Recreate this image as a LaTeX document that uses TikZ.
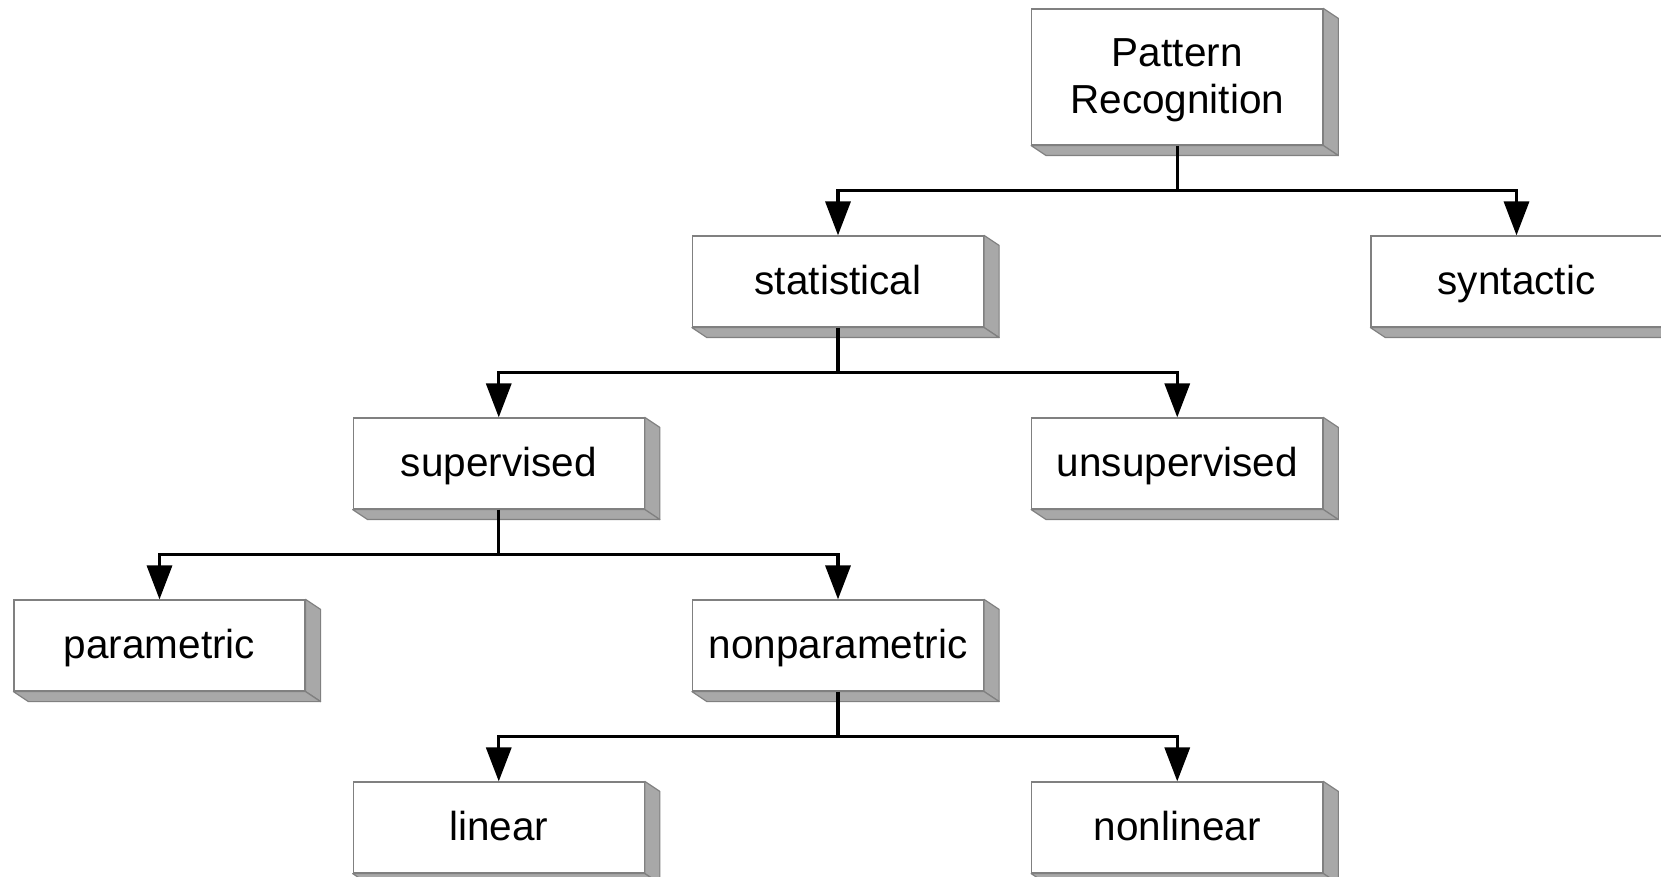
\documentclass[tikz,border=0pt]{standalone}
\usepackage{fontspec}
\setmainfont{Liberation Sans}
\usetikzlibrary{arrows.meta,calc}
\definecolor{boxedge}{HTML}{808080}
\definecolor{boxside}{HTML}{A8A8A8}
\begin{document}
\begin{tikzpicture}[x=1pt,y=1pt,
  box/.style={draw=boxedge, line width=1.2pt, fill=white, minimum width=291pt,
    minimum height=91pt, inner sep=0pt, font=\fontsize{40.5}{47}\selectfont, align=center},
  one/.style={text height=33pt, text depth=7pt},
  face/.style={fill=boxside, draw=boxedge, line width=1.2pt, line join=round},
  link/.style={line width=3.4pt},
  conn/.style={line width=3.4pt, -{Triangle[length=34pt,width=25pt]}}]
\useasboundingbox (0,0) rectangle (1661,876);
\clip (0,0) rectangle (1661,876);
% nodes
\node[box, minimum height=136pt] (PR) at (1177.25,799) {\rule{0pt}{35pt}Pattern\\Recognition};
\node[box, one] (stat)   at (838,594.5)    {statistical};
\node[box, one] (syn)    at (1516.5,594.5) {syntactic};
\node[box, one] (sup)    at (498.75,412.5) {supervised};
\node[box, one] (unsup)  at (1177.25,412.5){unsupervised};
\node[box, one] (par)    at (159.5,230.5)  {parametric};
\node[box, one] (nonpar) at (838,230.5)    {nonparametric};
\node[box, one] (lin)    at (498.75,48.5)  {linear};
\node[box, one] (nonlin) at (1177.25,48.5) {nonlinear};
% depth faces
\foreach \n in {PR,stat,syn,sup,unsup,par,nonpar,lin,nonlin}{
  \filldraw[face] (\n.north east) -- ++(15,-10) -- ($(\n.south east)+(15,-10)$) -- (\n.south east) -- cycle;
  \filldraw[face] (\n.south west) -- ++(15,-10) -- ($(\n.south east)+(15,-10)$) -- (\n.south east) -- cycle;
}
% connectors
\coordinate (j1) at ($(PR.south)!0.5!(stat.north)$);
\draw[link] (PR.south) -- (PR.south |- j1);
\draw[conn] (PR.south |- j1) -| (stat.north);
\draw[conn] (PR.south |- j1) -| (syn.north);
\coordinate (j2) at ($(stat.south)!0.5!(sup.north)$);
\draw[link] (stat.south) -- (stat.south |- j2);
\draw[conn] (stat.south |- j2) -| (sup.north);
\draw[conn] (stat.south |- j2) -| (unsup.north);
\coordinate (j3) at ($(sup.south)!0.5!(par.north)$);
\draw[link] (sup.south) -- (sup.south |- j3);
\draw[conn] (sup.south |- j3) -| (par.north);
\draw[conn] (sup.south |- j3) -| (nonpar.north);
\coordinate (j4) at ($(nonpar.south)!0.5!(lin.north)$);
\draw[link] (nonpar.south) -- (nonpar.south |- j4);
\draw[conn] (nonpar.south |- j4) -| (lin.north);
\draw[conn] (nonpar.south |- j4) -| (nonlin.north);
\end{tikzpicture}
\end{document}
